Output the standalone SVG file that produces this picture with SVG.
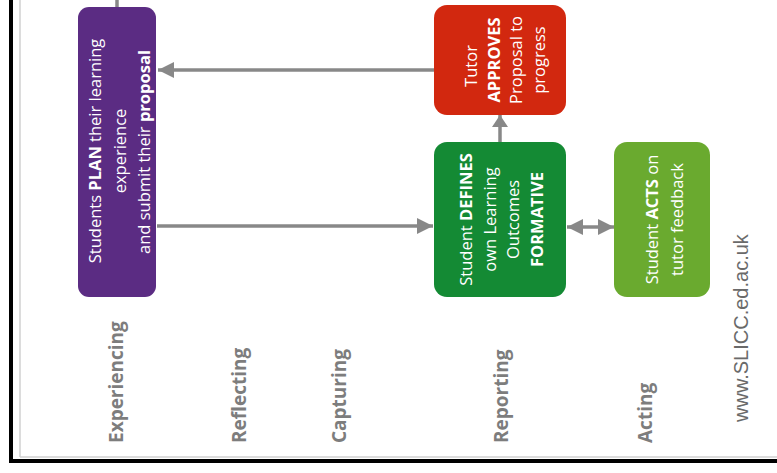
<svg xmlns="http://www.w3.org/2000/svg" width="777" height="473" viewBox="0 0 777 473">
  <style>
    .box-text { font-family: "Open Sans", "DejaVu Sans", sans-serif; font-size: 16.5px; fill: #ffffff; text-anchor: middle; }
    .b { font-weight: bold; }
    .label { font-family: "Open Sans", "DejaVu Sans", sans-serif; font-size: 19px; font-weight: bold; fill: #7d7d7d; }
    .url { font-family: "Liberation Sans", Arial, sans-serif; font-size: 20px; fill: #6a6a6a; }
    .conn { stroke: #888888; stroke-width: 3.5; fill: none; }
  </style>
  <defs>
    <marker id="head" markerUnits="userSpaceOnUse" markerWidth="16" markerHeight="16" refX="16" refY="8" orient="auto-start-reverse" viewBox="0 0 16 16">
      <polygon points="0,0 16,8 0,16" fill="#888888"/>
    </marker>
    <marker id="headS" markerUnits="userSpaceOnUse" markerWidth="12" markerHeight="16" refX="12" refY="8" orient="auto" viewBox="0 0 12 16">
      <polygon points="0,0 12,8 0,16" fill="#888888"/>
    </marker>
  </defs>

  <rect x="0" y="0" width="777" height="473" fill="#ffffff"/>

  <g id="frame">
    <line x1="20" y1="0" x2="20" y2="457" stroke="#d0d0d0" stroke-width="1.5"/>
    <line x1="20" y1="457" x2="777" y2="457" stroke="#d0d0d0" stroke-width="1.5"/>
    <rect x="9" y="0" width="4" height="463" fill="#000000"/>
    <rect x="9" y="459" width="768" height="4" fill="#000000"/>
  </g>

  <g id="connectors">
    <line class="conn" x1="117" y1="0" x2="117" y2="7"/>
    <line class="conn" x1="434" y1="70" x2="158" y2="70" marker-end="url(#head)"/>
    <line class="conn" x1="157" y1="226" x2="433" y2="226" marker-end="url(#head)"/>
    <line class="conn" x1="500" y1="142" x2="500" y2="115" marker-end="url(#headS)"/>
    <line class="conn" x1="567" y1="227" x2="614" y2="227" marker-start="url(#head)" marker-end="url(#head)"/>
  </g>

  <g id="node-plan">
    <rect x="78" y="7" width="78" height="290" rx="11" fill="#5b2c83"/>
    <text class="box-text" transform="translate(101,151) rotate(-90)">Students <tspan class="b">PLAN</tspan> their learning</text>
    <text class="box-text" transform="translate(126,151) rotate(-90)">experience</text>
    <text class="box-text" transform="translate(150,152) rotate(-90)">and submit their <tspan class="b">proposal</tspan></text>
  </g>

  <g id="node-approves">
    <rect x="434" y="5" width="132" height="110" rx="13" fill="#d2280f"/>
    <text class="box-text" transform="translate(477,66) rotate(-90)">Tutor</text>
    <text class="box-text b" transform="translate(499.5,60) rotate(-90)">APPROVES</text>
    <text class="box-text" transform="translate(522,60) rotate(-90)">Proposal to</text>
    <text class="box-text" transform="translate(544.5,60) rotate(-90)">progress</text>
  </g>

  <g id="node-defines">
    <rect x="434" y="142" width="132" height="155" rx="13" fill="#148a34"/>
    <text class="box-text" transform="translate(472,219.5) rotate(-90)">Student <tspan class="b">DEFINES</tspan></text>
    <text class="box-text" transform="translate(495.5,219.5) rotate(-90)">own Learning</text>
    <text class="box-text" transform="translate(519,219.5) rotate(-90)">Outcomes</text>
    <text class="box-text b" transform="translate(542.5,219.5) rotate(-90)">FORMATIVE</text>
  </g>

  <g id="node-acts">
    <rect x="614" y="142" width="96" height="155" rx="13" fill="#6aaa2f"/>
    <text class="box-text" transform="translate(658,219.5) rotate(-90)">Student <tspan class="b">ACTS</tspan> on</text>
    <text class="box-text" transform="translate(683,219.5) rotate(-90)">tutor feedback</text>
  </g>

  <g id="labels">
    <text class="label" transform="translate(123,443) rotate(-90)">Experiencing</text>
    <text class="label" transform="translate(246,443) rotate(-90)">Reflecting</text>
    <text class="label" transform="translate(346,443) rotate(-90)">Capturing</text>
    <text class="label" transform="translate(508,443) rotate(-90)">Reporting</text>
    <text class="label" transform="translate(652,443) rotate(-90)">Acting</text>
    <text class="url" transform="translate(748,422) rotate(-90)">www.SLICC.ed.ac.uk</text>
  </g>
</svg>
